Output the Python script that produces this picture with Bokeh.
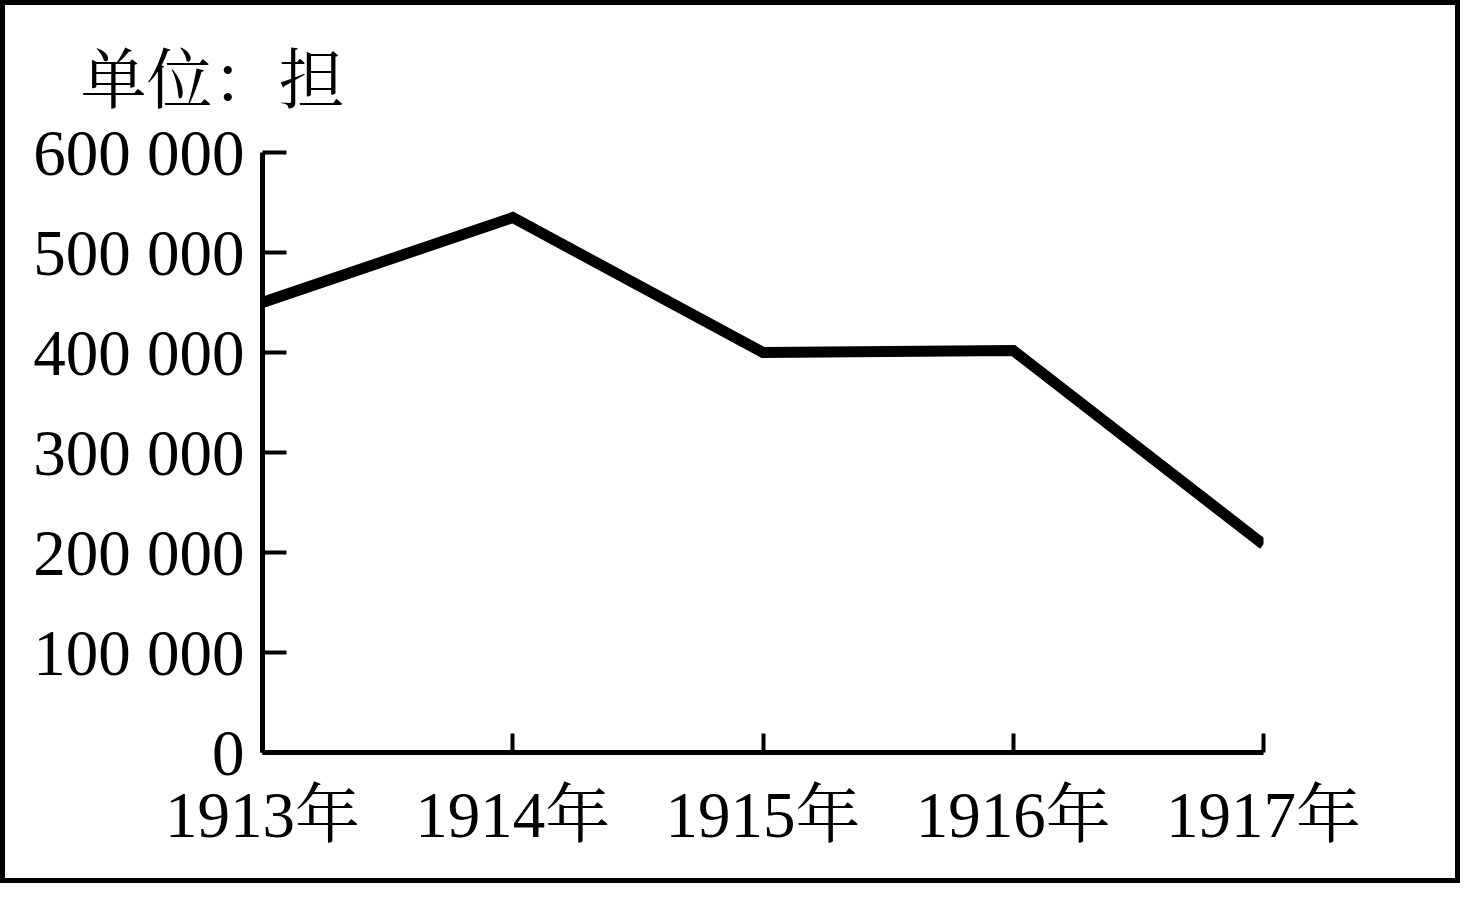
from bokeh.plotting import figure
from bokeh.models import Range1d, FixedTicker
from bokeh.embed import file_html
from bokeh.resources import INLINE

years = [1913, 1914, 1915, 1916, 1917]
year_labels = ["1913年", "1914年", "1915年", "1916年", "1917年"]
values = [450000, 535000, 400000, 402000, 208000]
y_ticks = [0, 100000, 200000, 300000, 400000, 500000, 600000]
y_tick_labels = ["0", "100 000", "200 000", "300 000", "400 000", "500 000", "600 000"]
unit_text = "单位：担"

FONT = "Liberation Serif, 'Noto Serif CJK SC', 'Noto Sans CJK SC', serif"

p = figure(width=1460, height=883, output_backend="svg", toolbar_location=None,
           x_range=Range1d(1913, 1917), y_range=Range1d(0, 600000),
           min_border_left=257, min_border_right=202, min_border_top=145, min_border_bottom=136)
p.styles = {"border": "5px solid black"}
p.background_fill_color = "white"
p.border_fill_color = "white"
p.outline_line_color = None
p.xgrid.visible = False
p.ygrid.visible = False

p.title.text = unit_text
p.title.align = "left"
p.title.offset = -182
p.title.standoff = 72
p.title.text_font = FONT
p.title.text_font_size = "66px"
p.title.text_font_style = "normal"
p.title.text_color = "black"

p.line(years, values, line_color="black", line_width=11, line_join="miter")

for ax in (p.xaxis[0], p.yaxis[0]):
    ax.axis_line_width = 5
    ax.axis_line_color = "black"
    ax.major_tick_line_width = 4
    ax.major_tick_line_color = "black"
    ax.major_tick_out = 0
    ax.minor_tick_in = 0
    ax.minor_tick_out = 0
    ax.major_label_text_font = FONT
    ax.major_label_text_font_size = "65px"
    ax.major_label_text_color = "black"

p.yaxis.ticker = FixedTicker(ticks=y_ticks)
p.yaxis.major_label_overrides = {t: l for t, l in zip(y_ticks, y_tick_labels)}
p.yaxis.major_tick_in = 24
p.yaxis.major_label_standoff = 18

p.xaxis.ticker = FixedTicker(ticks=years)
p.xaxis.major_label_overrides = {t: l for t, l in zip(years, year_labels)}
p.xaxis.major_tick_in = 19
p.xaxis.major_label_standoff = 26

open("out.html", "w").write(file_html(p, INLINE))
